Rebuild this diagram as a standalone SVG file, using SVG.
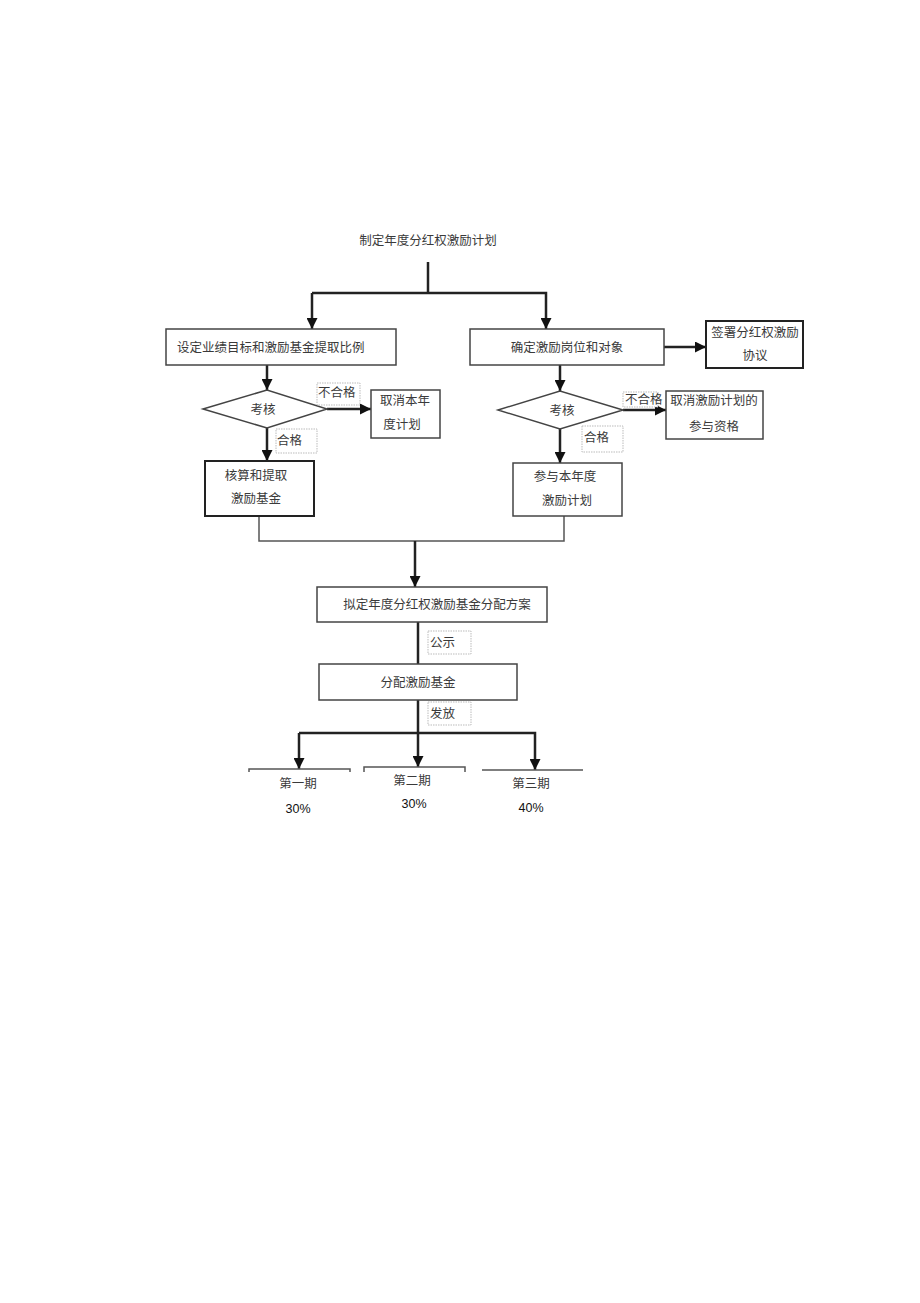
<svg xmlns="http://www.w3.org/2000/svg" width="920" height="1303" viewBox="0 0 920 1303">
<style>
.bx{fill:#fff;stroke:#444;stroke-width:1.5}
.bk{fill:#fff;stroke:#222;stroke-width:2}
.lb{fill:#fff;stroke:#bbb;stroke-width:1;stroke-dasharray:1.5 1}
.t{font-family:"Noto Sans CJK SC","Liberation Serif",serif;font-size:12.5px;fill:#3a3a3a}
.n{font-family:"Liberation Sans",Arial,sans-serif;font-size:12.5px;fill:#111}
.c{stroke:#222;stroke-width:2.5;fill:none}
.ct{stroke:#555;stroke-width:1.5;fill:none}
</style>
<defs>
<marker id="ah" markerUnits="userSpaceOnUse" markerWidth="11" markerHeight="11" refX="10" refY="5" viewBox="0 0 10 10" orient="auto">
<path d="M0,0 L10,5 L0,10 z" fill="#111"/>
</marker>
</defs>
<rect width="920" height="1303" fill="#fff"/>

<g id="connectors">
<line class="c" x1="428" y1="262" x2="428" y2="293"/>
<polyline class="c" points="312,293 546,293 546,329" marker-end="url(#ah)"/>
<line class="c" x1="312" y1="293" x2="312" y2="329" marker-end="url(#ah)"/>
<line class="c" x1="267" y1="365" x2="267" y2="390" marker-end="url(#ah)"/>
<line class="c" x1="560" y1="365" x2="560" y2="391" marker-end="url(#ah)"/>
<line class="c" x1="664" y1="347" x2="706" y2="347" marker-end="url(#ah)"/>
<line class="c" x1="327" y1="409" x2="371" y2="409" marker-end="url(#ah)"/>
<line class="c" x1="623" y1="410" x2="666" y2="410" marker-end="url(#ah)"/>
<line class="c" x1="267" y1="428" x2="267" y2="461" marker-end="url(#ah)"/>
<line class="c" x1="560" y1="429" x2="560" y2="463" marker-end="url(#ah)"/>
<polyline class="ct" points="259,516 259,541 564,541 564,516"/>
<line class="c" x1="415" y1="541" x2="415" y2="587" marker-end="url(#ah)"/>
<line class="c" x1="418" y1="622" x2="418" y2="664"/>
<line class="c" x1="418" y1="700" x2="418" y2="767" marker-end="url(#ah)"/>
<polyline class="c" points="299,733 535,733 535,770" marker-end="url(#ah)"/>
<line class="c" x1="299" y1="733" x2="299" y2="769" marker-end="url(#ah)"/>
</g>

<g id="title"><text class="t" x="428" y="245" text-anchor="middle">制定年度分红权激励计划</text></g>

<g id="n-set"><rect class="bx" x="166" y="329" width="230" height="36"/><text class="t" x="177" y="352">设定业绩目标和激励基金提取比例</text></g>
<g id="n-confirm"><rect class="bx" x="470" y="329" width="194" height="36"/><text class="t" x="567" y="352" text-anchor="middle">确定激励岗位和对象</text></g>
<g id="n-sign"><rect class="bk" x="706" y="321" width="97" height="47"/><text class="t" x="755" y="337" text-anchor="middle">签署分红权激励</text><text class="t" x="755" y="360" text-anchor="middle">协议</text></g>

<g id="d-left"><polygon class="bx" points="203,409 267,390 327,409 267,428"/><text class="t" x="263" y="414" text-anchor="middle">考核</text></g>
<g id="l-fail1"><rect class="lb" x="317" y="383" width="43" height="22"/><text class="t" x="318" y="397">不合格</text></g>
<g id="n-cancel1"><rect class="bx" x="371" y="390" width="69" height="48"/><text class="t" x="405" y="405" text-anchor="middle">取消本年</text><text class="t" x="402" y="429" text-anchor="middle">度计划</text></g>
<g id="l-pass1"><rect class="lb" x="276" y="429" width="41" height="24"/><text class="t" x="277" y="445">合格</text></g>
<g id="n-calc"><rect class="bk" x="205" y="461" width="109" height="55"/><text class="t" x="256" y="480" text-anchor="middle">核算和提取</text><text class="t" x="256" y="503" text-anchor="middle">激励基金</text></g>

<g id="d-right"><polygon class="bx" points="498,410 560,391 623,410 560,429"/><text class="t" x="562" y="415" text-anchor="middle">考核</text></g>
<g id="l-fail2"><rect class="lb" x="623" y="392" width="35" height="15"/><text class="t" x="625" y="404">不合格</text></g>
<g id="n-cancel2"><rect class="bx" x="666" y="391" width="97" height="48"/><text class="t" x="714" y="405" text-anchor="middle">取消激励计划的</text><text class="t" x="714" y="431" text-anchor="middle">参与资格</text></g>
<g id="l-pass2"><rect class="lb" x="582" y="426" width="41" height="26"/><text class="t" x="584" y="442">合格</text></g>
<g id="n-join"><rect class="bx" x="513" y="463" width="109" height="53"/><text class="t" x="565" y="481" text-anchor="middle">参与本年度</text><text class="t" x="567" y="505" text-anchor="middle">激励计划</text></g>

<g id="n-plan"><rect class="bx" x="317" y="587" width="230" height="35"/><text class="t" x="437" y="609" text-anchor="middle">拟定年度分红权激励基金分配方案</text></g>
<g id="l-pub"><rect class="lb" x="428" y="631" width="43" height="23"/><text class="t" x="430" y="647">公示</text></g>
<g id="n-dist"><rect class="bx" x="319" y="664" width="198" height="36"/><text class="t" x="418" y="687" text-anchor="middle">分配激励基金</text></g>
<g id="l-issue"><rect class="lb" x="428" y="702" width="43" height="23"/><text class="t" x="430" y="718">发放</text></g>

<g id="p1"><polyline class="ct" points="249,772 249,769 350,769 350,772"/><text class="t" x="298" y="788" text-anchor="middle">第一期</text><text class="n" x="298" y="813" text-anchor="middle">30%</text></g>
<g id="p2"><polyline class="ct" points="364,772 364,767 465,767 465,772"/><text class="t" x="412" y="785" text-anchor="middle">第二期</text><text class="n" x="414" y="808" text-anchor="middle">30%</text></g>
<g id="p3"><line class="ct" x1="482" y1="770" x2="583" y2="770"/><text class="t" x="531" y="788" text-anchor="middle">第三期</text><text class="n" x="531" y="812" text-anchor="middle">40%</text></g>
</svg>
